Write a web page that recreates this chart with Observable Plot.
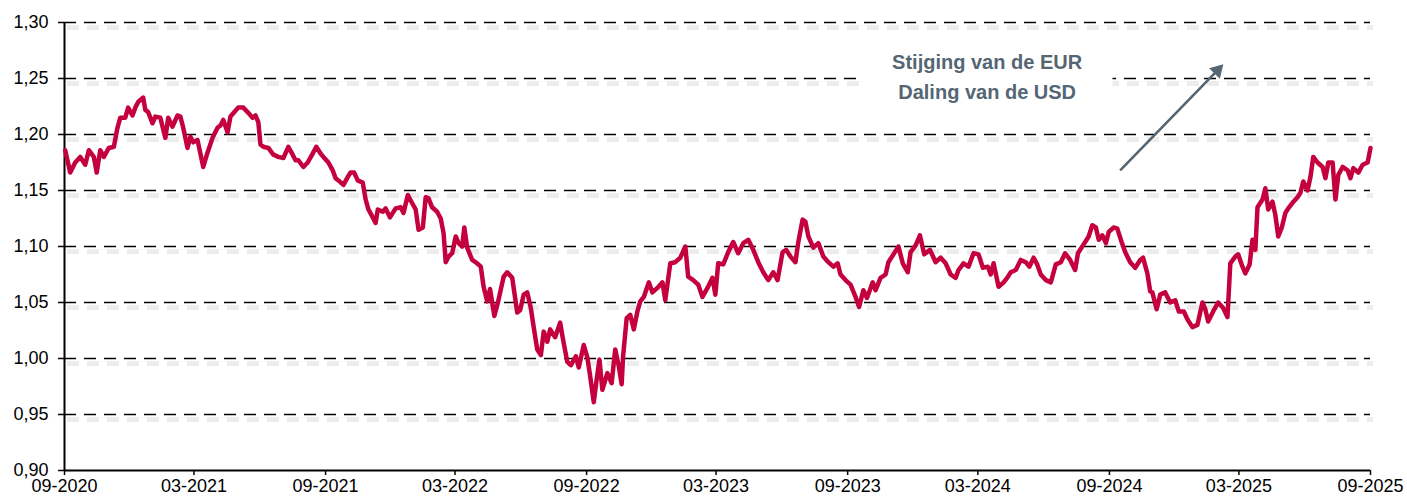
<!DOCTYPE html>
<html><head><meta charset="utf-8">
<script src="https://cdn.jsdelivr.net/npm/d3@7"></script>
<script src="https://cdn.jsdelivr.net/npm/@observablehq/plot@0.6"></script>
<style>html,body{margin:0;padding:0;background:#fff}</style>
</head><body><div id="chart"></div>
<script>
// EUR/USD
const dates = [
"2020-09-02","2020-09-09","2020-09-16","2020-09-23","2020-09-30","2020-10-05","2020-10-12","2020-10-16","2020-10-21","2020-10-26",
"2020-11-02","2020-11-09","2020-11-14","2020-11-18","2020-11-25","2020-11-29","2020-12-05","2020-12-09","2020-12-13","2020-12-20",
"2020-12-23","2020-12-27","2021-01-02","2021-01-06","2021-01-13","2021-01-20","2021-01-24","2021-01-30","2021-02-06","2021-02-10",
"2021-02-14","2021-02-20","2021-02-24","2021-02-28","2021-03-06","2021-03-14","2021-03-20","2021-03-27","2021-04-03","2021-04-07",
"2021-04-11","2021-04-17","2021-04-21","2021-04-25","2021-05-02","2021-05-09","2021-05-15","2021-05-22","2021-05-26","2021-05-30",
"2021-06-02","2021-06-06","2021-06-13","2021-06-20","2021-06-27","2021-07-04","2021-07-11","2021-07-17","2021-07-21","2021-07-25",
"2021-08-01","2021-08-07","2021-08-14","2021-08-19","2021-08-25","2021-08-29","2021-09-05","2021-09-11","2021-09-15","2021-09-19",
"2021-09-26","2021-10-02","2021-10-06","2021-10-11","2021-10-16","2021-10-23","2021-10-27","2021-10-31","2021-11-06","2021-11-10",
"2021-11-13","2021-11-20","2021-11-24","2021-11-30","2021-12-08","2021-12-15","2021-12-19","2021-12-25","2021-12-30","2022-01-05",
"2022-01-09","2022-01-15","2022-01-19","2022-01-23","2022-01-28","2022-02-04","2022-02-09","2022-02-13","2022-02-16","2022-02-20",
"2022-02-25","2022-03-02","2022-03-06","2022-03-11","2022-03-14","2022-03-18","2022-03-25","2022-04-01","2022-04-06","2022-04-10",
"2022-04-15","2022-04-19","2022-04-25","2022-04-30","2022-05-08","2022-05-13","2022-05-20","2022-05-27","2022-05-31","2022-06-05",
"2022-06-10","2022-06-15","2022-06-19","2022-06-24","2022-06-29","2022-07-03","2022-07-08","2022-07-12","2022-07-19","2022-07-26",
"2022-07-30","2022-08-05","2022-08-10","2022-08-17","2022-08-21","2022-08-28","2022-09-02","2022-09-06","2022-09-11","2022-09-15",
"2022-09-19","2022-09-23","2022-09-30","2022-10-06","2022-10-11","2022-10-16","2022-10-20","2022-10-22","2022-10-27","2022-11-01",
"2022-11-06","2022-11-11","2022-11-15","2022-11-20","2022-11-27","2022-12-02","2022-12-09","2022-12-16","2022-12-20","2022-12-27",
"2023-01-03","2023-01-10","2023-01-17","2023-01-21","2023-01-28","2023-02-04","2023-02-10","2023-02-17","2023-02-24","2023-02-28",
"2023-03-04","2023-03-11","2023-03-18","2023-03-25","2023-04-01","2023-04-08","2023-04-15","2023-04-22","2023-04-29","2023-05-06",
"2023-05-13","2023-05-20","2023-05-26","2023-06-02","2023-06-07","2023-06-13","2023-06-20","2023-06-24","2023-06-30","2023-07-04",
"2023-07-08","2023-07-15","2023-07-22","2023-07-29","2023-08-05","2023-08-12","2023-08-18","2023-08-22","2023-08-29","2023-09-05",
"2023-09-12","2023-09-17","2023-09-23","2023-09-28","2023-10-06","2023-10-10","2023-10-17","2023-10-24","2023-10-28","2023-11-04",
"2023-11-11","2023-11-17","2023-11-24","2023-11-28","2023-12-05","2023-12-11","2023-12-17","2023-12-25","2024-01-02","2024-01-09",
"2024-01-16","2024-01-23","2024-01-30","2024-02-03","2024-02-10","2024-02-17","2024-02-24","2024-03-02","2024-03-08","2024-03-15",
"2024-03-19","2024-03-23","2024-03-30","2024-04-06","2024-04-11","2024-04-16","2024-04-23","2024-04-30","2024-05-07","2024-05-12",
"2024-05-18","2024-05-23","2024-05-28","2024-06-04","2024-06-11","2024-06-18","2024-06-25","2024-07-01","2024-07-08","2024-07-15",
"2024-07-19","2024-07-26","2024-08-03","2024-08-08","2024-08-13","2024-08-17","2024-08-22","2024-08-27","2024-08-31","2024-09-07",
"2024-09-12","2024-09-18","2024-09-23","2024-09-30","2024-10-07","2024-10-14","2024-10-18","2024-10-24","2024-10-28","2024-10-31",
"2024-11-06","2024-11-11","2024-11-18","2024-11-25","2024-12-02","2024-12-07","2024-12-14","2024-12-19","2024-12-26","2025-01-02",
"2025-01-09","2025-01-13","2025-01-17","2025-01-24","2025-01-31","2025-02-07","2025-02-13","2025-02-17","2025-02-24","2025-02-28",
"2025-03-06","2025-03-10","2025-03-16","2025-03-20","2025-03-24","2025-03-27","2025-04-03","2025-04-07","2025-04-11","2025-04-17",
"2025-04-21","2025-04-25","2025-04-30","2025-05-05","2025-05-09","2025-05-15","2025-05-22","2025-05-26","2025-05-30","2025-06-05",
"2025-06-09","2025-06-13","2025-06-19","2025-06-26","2025-06-30","2025-07-04","2025-07-10","2025-07-14","2025-07-18","2025-07-24",
"2025-07-31","2025-08-04","2025-08-08","2025-08-15","2025-08-21","2025-08-28","2025-09-01"
];
const eurusd = [
1.186,1.166,1.175,1.180,1.173,1.186,1.180,1.166,1.186,1.180,
1.188,1.189,1.206,1.215,1.215,1.224,1.217,1.224,1.229,1.233,
1.222,1.220,1.210,1.216,1.215,1.197,1.215,1.207,1.217,1.216,
1.206,1.188,1.198,1.193,1.195,1.171,1.184,1.197,1.206,1.208,
1.213,1.202,1.216,1.219,1.224,1.224,1.220,1.215,1.217,1.211,
1.191,1.189,1.188,1.182,1.180,1.179,1.189,1.182,1.177,1.177,
1.171,1.175,1.183,1.189,1.183,1.180,1.175,1.168,1.161,1.159,
1.155,1.162,1.166,1.166,1.159,1.157,1.142,1.133,1.126,1.121,
1.133,1.131,1.134,1.126,1.134,1.135,1.130,1.146,1.140,1.133,
1.115,1.117,1.144,1.143,1.135,1.131,1.125,1.112,1.086,1.091,
1.094,1.109,1.103,1.100,1.117,1.099,1.088,1.085,1.082,1.064,
1.051,1.062,1.038,1.050,1.073,1.077,1.072,1.041,1.043,1.057,
1.059,1.045,1.028,1.008,1.003,1.024,1.015,1.026,1.019,1.032,
1.017,0.997,0.994,1.002,0.992,1.012,1.001,0.984,0.961,0.981,
0.999,0.972,0.987,0.978,1.008,0.993,0.977,1.002,1.036,1.039,
1.026,1.042,1.051,1.055,1.068,1.059,1.063,1.068,1.052,1.085,
1.086,1.090,1.100,1.073,1.070,1.066,1.055,1.063,1.072,1.057,
1.085,1.084,1.095,1.104,1.094,1.103,1.106,1.097,1.086,1.077,
1.070,1.077,1.070,1.095,1.097,1.091,1.086,1.104,1.124,1.122,
1.109,1.099,1.103,1.091,1.086,1.082,1.085,1.075,1.070,1.066,
1.055,1.046,1.061,1.054,1.068,1.061,1.072,1.075,1.086,1.093,
1.100,1.085,1.077,1.095,1.101,1.110,1.093,1.097,1.086,1.090,
1.085,1.075,1.072,1.079,1.085,1.082,1.094,1.093,1.081,1.082,
1.075,1.085,1.064,1.068,1.072,1.077,1.079,1.088,1.086,1.082,
1.090,1.084,1.075,1.070,1.068,1.084,1.086,1.094,1.088,1.079,
1.094,1.101,1.109,1.119,1.117,1.106,1.110,1.103,1.113,1.117,
1.116,1.104,1.095,1.086,1.081,1.088,1.090,1.076,1.060,1.059,
1.044,1.057,1.059,1.050,1.052,1.042,1.042,1.035,1.028,1.030,
1.050,1.044,1.033,1.042,1.050,1.045,1.037,1.085,1.091,1.093,
1.082,1.076,1.084,1.106,1.097,1.135,1.142,1.152,1.133,1.140,
1.128,1.109,1.117,1.130,1.134,1.139,1.144,1.148,1.158,1.150,
1.162,1.180,1.175,1.171,1.161,1.175,1.175,1.142,1.164,1.171,
1.168,1.161,1.170,1.166,1.173,1.175,1.188
];

const yTicks = [0.90, 0.95, 1.00, 1.05, 1.10, 1.15, 1.20, 1.25, 1.30];
const gridValues = [0.95, 1.00, 1.05, 1.10, 1.15, 1.20, 1.25, 1.30];
const xTickDates = ["2020-09-01","2021-03-01","2021-09-01","2022-03-01","2022-09-01","2023-03-01","2023-09-01","2024-03-01","2024-09-01","2025-03-01","2025-09-01"];
const xTickLabels = ["09-2020","03-2021","09-2021","03-2022","09-2022","03-2023","09-2023","03-2024","09-2024","03-2025","09-2025"];
const xRange = ["2020-09-01", "2025-09-01"];

// Annotation (in data units)
const annotationLines = ["Stijging van de EUR", "Daling van de USD"];
const annotationAt = {date: "2024-03-14", value: 1.2533};
const annotationBox = {x1: "2023-09-19", x2: "2024-09-06", y1: 1.2235, y2: 1.284};
const arrowFrom = {date: "2024-09-16", value: 1.168};
const arrowHead = {date: "2025-01-30", value: 1.2572};

const parse = d3.utcParse("%Y-%m-%d");
const data = dates.map((d, i) => ({date: parse(d), value: eurusd[i]}));
const xDomain = xRange.map(parse);
const labelOf = new Map(xTickDates.map((d, i) => [+parse(d), xTickLabels[i]]));
const fmtY = d => d3.format(".2f")(d).replace(".", ",");

const textColor = "#546673";
const lineColor = "#c4003f";

const chart = Plot.plot({
  width: 1407,
  height: 501,
  marginLeft: 64,
  marginRight: 37,
  marginTop: 22,
  marginBottom: 31,
  style: {fontFamily: "'Liberation Sans', Arial, sans-serif", fontSize: "18px", color: "#000", background: "#fff", overflow: "visible"},
  x: {type: "utc", domain: xDomain},
  y: {domain: [0.9, 1.3]},
  marks: [
    Plot.ruleY(gridValues, {stroke: "#ececec", strokeWidth: 5, strokeDasharray: "12,8", dx: 3, dy: 5, ariaLabel: "grid-shadow"}),
    Plot.ruleY(gridValues, {stroke: "#000", strokeWidth: 1.6, strokeDasharray: "12,8"}),
    Plot.rect([annotationBox], {x1: d => parse(d.x1), x2: d => parse(d.x2), y1: "y1", y2: "y2", fill: "#fff"}),
    Plot.axisY({ticks: yTicks, tickFormat: fmtY, tickSize: 6, tickPadding: 10, strokeWidth: 1.5, label: null}),
    Plot.axisX({ticks: xTickDates.map(parse), tickFormat: d => labelOf.get(+d), tickSize: 5, tickPadding: 4, strokeWidth: 1.5, label: null}),
    Plot.ruleX([xDomain[0]], {stroke: "#000", strokeWidth: 2}),
    Plot.ruleY([0.9], {stroke: "#000", strokeWidth: 2}),
    Plot.lineY(data, {x: "date", y: "value", stroke: lineColor, strokeWidth: 4.5, strokeLinejoin: "round", strokeLinecap: "round"}),
    Plot.link([{a: arrowFrom, b: arrowHead}], {x1: d => parse(d.a.date), y1: d => d.a.value, x2: d => parse(d.b.date), y2: d => d.b.value, stroke: textColor, strokeWidth: 2.6}),
    Plot.dot([arrowHead], {x: d => parse(d.date), y: "value", symbol: "triangle", r: 5.5, fill: textColor, stroke: "none", rotate: 44}),
    Plot.text([annotationLines.join("\n")], {x: () => parse(annotationAt.date), y: () => annotationAt.value, text: d => d, fontSize: 20, fontWeight: "bold", lineHeight: 1.5, fill: textColor})
  ]
});

document.getElementById("chart").appendChild(chart);
d3.select(chart).selectAll('[aria-label="grid-shadow"]').style("filter", "blur(2px)");
</script>
</body></html>
